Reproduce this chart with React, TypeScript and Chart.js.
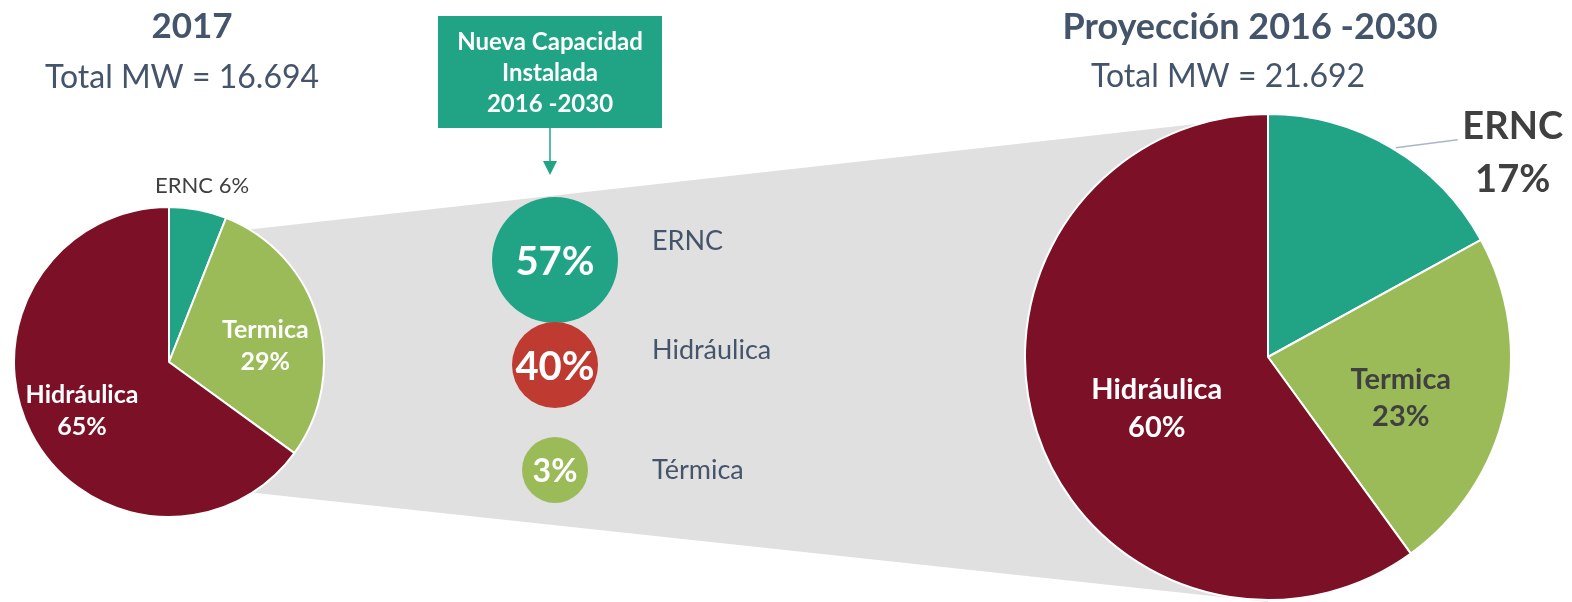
import React, { useEffect, useRef } from "react";
import { Chart, registerables } from "chart.js";

Chart.register(...registerables);

// ---------- data ----------
const categories = ["ERNC", "Termica", "Hidráulica"];
const share2017 = [6, 29, 65];
const share2030 = [17, 23, 60];
const newCapCategories = ["ERNC", "Hidráulica", "Térmica"];
const newCapShare = [57, 40, 3];
const title2017 = "2017";
const total2017 = "Total MW = 16.694";
const titleProj = "Proyección 2016 -2030";
const totalProj = "Total MW = 21.692";
const boxLines = ["Nueva Capacidad", "Instalada", "2016 -2030"];

// ---------- styles ----------
const FONT = "Lato, 'Open Sans', sans-serif";
const TITLE = "#44546a";
const DARK = "#404040";
const sliceColors = ["#21a386", "#9bbb59", "#7b1026"];
const bubbleColors = ["#21a386", "#bf3a30", "#9bbb59"];
const bubbleRadii = [63, 43, 33];
const bubbleFont = [40, 40, 32];
const bubbleLabelDy = [-19, -15, 0];

type LabelSpec = {
  mode: "inside" | "outside" | "leader";
  size: number;
  weight: number;
  color: string;
  frac?: number;
  dx?: number;
  dy?: number;
  lineH?: number;
  leadDx?: number;
  leadDy?: number;
};

const leftLabels: LabelSpec[] = [
  { mode: "outside", size: 22, weight: 400, color: DARK, dx: 4, dy: -24 },
  { mode: "inside", size: 25, weight: 700, color: "#ffffff", frac: 0.62, dx: 4, dy: 11, lineH: 32 },
  { mode: "inside", size: 25, weight: 700, color: "#ffffff", frac: 0.63, dx: 0, dy: 5, lineH: 32 },
];
const rightLabels: LabelSpec[] = [
  { mode: "leader", size: 38, weight: 700, color: DARK, dx: 121, dy: 5, lineH: 53, leadDx: 66, leadDy: -8 },
  { mode: "inside", size: 29, weight: 700, color: DARK, frac: 0.56, dx: 0, dy: 11, lineH: 37 },
  { mode: "inside", size: 29, weight: 700, color: "#ffffff", frac: 0.49, dx: 2, dy: 15, lineH: 38 },
];

function txt(ctx: CanvasRenderingContext2D, s: string, x: number, y: number, size: number, weight: number, color: string, align: CanvasTextAlign = "center") {
  ctx.font = `${weight} ${size}px ${FONT}`;
  ctx.fillStyle = color;
  ctx.textAlign = align;
  ctx.textBaseline = "middle";
  ctx.fillText(s, x, y);
}

const pieLabelPlugin = {
  id: "pieLabels",
  afterDatasetsDraw(chart: any, _a: any, opts: any) {
    const ctx: CanvasRenderingContext2D = chart.ctx;
    const meta = chart.getDatasetMeta(0);
    const values: number[] = chart.data.datasets[0].data;
    const specs: LabelSpec[] = opts.specs;
    ctx.save();
    meta.data.forEach((arc: any, i: number) => {
      const spec = specs[i];
      const { x, y, startAngle, endAngle, outerRadius } = arc.getProps(["x", "y", "startAngle", "endAngle", "outerRadius"], true);
      const mid = (startAngle + endAngle) / 2;
      const ex = x + Math.cos(mid) * outerRadius;
      const ey = y + Math.sin(mid) * outerRadius;
      const name = chart.data.labels[i];
      const pct = `${values[i]}%`;
      if (spec.mode === "outside") {
        txt(ctx, `${name} ${pct}`, ex + (spec.dx || 0), ey + (spec.dy || 0), spec.size, spec.weight, spec.color);
      } else if (spec.mode === "leader") {
        ctx.strokeStyle = "#a8b6c8";
        ctx.lineWidth = 1.5;
        ctx.beginPath();
        ctx.moveTo(ex + 4, ey);
        ctx.lineTo(ex + (spec.leadDx || 0), ey + (spec.leadDy || 0));
        ctx.stroke();
        const cx = ex + (spec.dx || 0);
        const cy = ey + (spec.dy || 0);
        const h = spec.lineH || 30;
        txt(ctx, String(name), cx, cy - h / 2, spec.size, spec.weight, spec.color);
        txt(ctx, pct, cx, cy + h / 2, spec.size, spec.weight, spec.color);
      } else {
        const d = outerRadius * (spec.frac || 0.6);
        const cx = x + Math.cos(mid) * d + (spec.dx || 0);
        const cy = y + Math.sin(mid) * d + (spec.dy || 0);
        const h = spec.lineH || 30;
        txt(ctx, String(name), cx, cy - h / 2, spec.size, spec.weight, spec.color);
        txt(ctx, pct, cx, cy + h / 2, spec.size, spec.weight, spec.color);
      }
    });
    ctx.restore();
  },
};

const bgPlugin = {
  id: "bgDecor",
  beforeDatasetsDraw(chart: any) {
    const ctx: CanvasRenderingContext2D = chart.ctx;
    ctx.save();
    // grey zoom funnel between the two pies
    ctx.fillStyle = "#e0e0e0";
    ctx.beginPath();
    ctx.moveTo(200, 235);
    ctx.lineTo(1268, 116);
    ctx.lineTo(1268, 602);
    ctx.lineTo(200, 487);
    ctx.closePath();
    ctx.fill();
    // green header box
    ctx.fillStyle = "#21a386";
    ctx.fillRect(438, 16, 224, 112);
    boxLines.forEach((s, i) => txt(ctx, s, 550, 42 + i * 31, 24, 700, "#ffffff"));
    // arrow
    ctx.strokeStyle = "#21a386";
    ctx.lineWidth = 1.5;
    ctx.beginPath();
    ctx.moveTo(550, 128);
    ctx.lineTo(550, 163);
    ctx.stroke();
    ctx.fillStyle = "#21a386";
    ctx.beginPath();
    ctx.moveTo(543, 161);
    ctx.lineTo(557, 161);
    ctx.lineTo(550, 175);
    ctx.closePath();
    ctx.fill();
    // titles
    txt(ctx, title2017, 192, 27, 35, 700, TITLE);
    txt(ctx, total2017, 182, 78, 32, 400, TITLE);
    txt(ctx, titleProj, 1250, 27, 36, 700, TITLE);
    txt(ctx, totalProj, 1228, 77, 32, 400, TITLE);
    ctx.restore();
  },
  afterDatasetsDraw(chart: any) {
    const ctx: CanvasRenderingContext2D = chart.ctx;
    const meta = chart.getDatasetMeta(0);
    ctx.save();
    meta.data.forEach((pt: any, i: number) => {
      txt(ctx, `${newCapShare[i]}%`, pt.x, pt.y + 2, bubbleFont[i], 700, "#ffffff");
      txt(ctx, newCapCategories[i], pt.x + 97, pt.y + bubbleLabelDy[i], 27, 400, TITLE, "left");
    });
    ctx.restore();
  },
};

export default function App() {
  const bgRef = useRef<HTMLCanvasElement>(null);
  const leftRef = useRef<HTMLCanvasElement>(null);
  const rightRef = useRef<HTMLCanvasElement>(null);

  useEffect(() => {
    const common = {
      responsive: false,
      animation: false as const,
      events: [] as any[],
    };
    const bg = new Chart(bgRef.current!, {
      type: "bubble",
      data: {
        labels: newCapCategories,
        datasets: [
          {
            data: newCapShare.map((v, i) => ({ x: 0, y: newCapCategories[i] as any, r: bubbleRadii[i], v })),
            backgroundColor: bubbleColors,
            borderWidth: 0,
            clip: false as any,
          },
        ],
      },
      options: {
        ...common,
        layout: { padding: { left: 505, right: 967, top: 260, bottom: 132 }, autoPadding: false },
        scales: {
          x: { type: "linear", min: -1, max: 1, display: false },
          y: { type: "category", labels: newCapCategories, offset: false, display: false },
        },
        plugins: { legend: { display: false }, tooltip: { enabled: false } },
      } as any,
      plugins: [bgPlugin],
    });

    const mkPie = (el: HTMLCanvasElement, values: number[], padding: any, specs: LabelSpec[]) =>
      new Chart(el, {
        type: "pie",
        data: {
          labels: categories,
          datasets: [
            {
              data: values,
              backgroundColor: sliceColors,
              borderColor: "#ffffff",
              borderWidth: 2,
              hoverBorderWidth: 2,
            },
          ],
        },
        options: {
          ...common,
          layout: { padding },
          plugins: { legend: { display: false }, tooltip: { enabled: false }, pieLabels: { specs } } as any,
        } as any,
        plugins: [pieLabelPlugin],
      });

    const left = mkPie(leftRef.current!, share2017, { top: 36, left: 0, right: 0, bottom: 0 }, leftLabels);
    const right = mkPie(rightRef.current!, share2030, { top: 13, left: 0, right: 60, bottom: 1 }, rightLabels);

    return () => {
      bg.destroy();
      left.destroy();
      right.destroy();
    };
  }, []);

  return (
    <div style={{ position: "absolute", left: 0, top: 0, width: 1572, height: 602, overflow: "hidden", background: "#ffffff" }}>
      <canvas ref={bgRef} width={1572} height={602} style={{ position: "absolute", left: 0, top: 0 }} />
      <canvas ref={leftRef} width={312} height={348} style={{ position: "absolute", left: 13, top: 170 }} />
      <canvas ref={rightRef} width={548} height={502} style={{ position: "absolute", left: 1024, top: 100 }} />
    </div>
  );
}
